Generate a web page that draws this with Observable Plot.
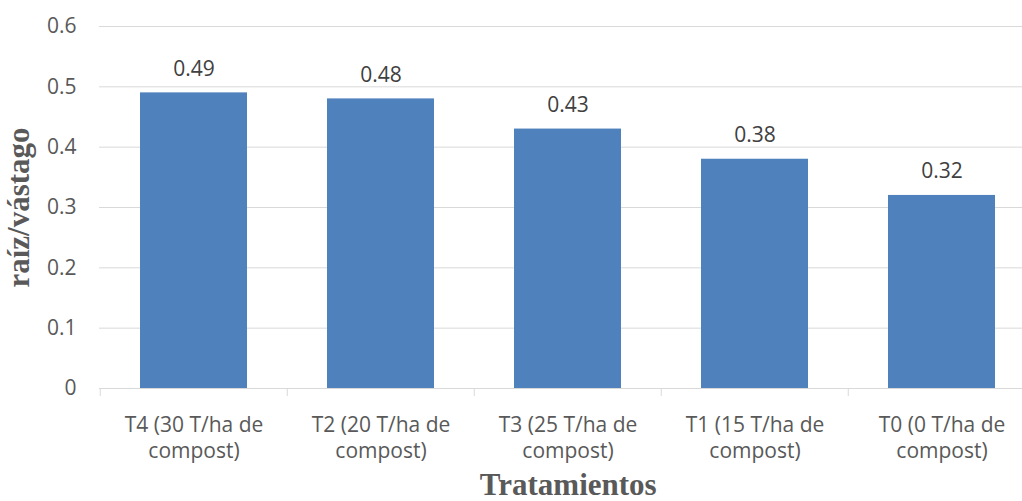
<!DOCTYPE html>
<html><head><meta charset="utf-8">
<script src="https://cdn.jsdelivr.net/npm/d3@7"></script>
<script src="https://cdn.jsdelivr.net/npm/@observablehq/plot@0.6"></script>
<style>body{margin:0;background:#fff;} #chart svg{display:block;}</style>
</head><body><div id="chart"></div>
<script>
const categories = ["T4", "T2", "T3", "T1", "T0"];
const xTickLabels = ["T4 (30 T/ha de\ncompost)", "T2 (20 T/ha de\ncompost)", "T3 (25 T/ha de\ncompost)", "T1 (15 T/ha de\ncompost)", "T0 (0 T/ha de\ncompost)"];
const values = [0.49, 0.48, 0.43, 0.38, 0.32];
const yTicks = [0, 0.1, 0.2, 0.3, 0.4, 0.5, 0.6];
const yTickLabels = ["0", "0.1", "0.2", "0.3", "0.4", "0.5", "0.6"];
const yLabel = "raíz/vástago";
const xLabel = "Tratamientos";

const data = categories.map((c, i) => ({cat: c, v: values[i]}));
const W = 1022, H = 501;
const mTop = 26, mBottom = 113, mLeft = 99;
const xRange = [mLeft, mLeft + 937.5];
const step = (xRange[1] - xRange[0]) / categories.length;
const frameH = H - mTop - mBottom;
const grid = "#d9d9d9";

const chart = Plot.plot({
  width: W, height: H,
  marginTop: mTop, marginBottom: mBottom, marginLeft: mLeft, marginRight: 0,
  style: {fontFamily: "'Open Sans', sans-serif", fontSize: "21px", background: "#fff"},
  x: {domain: categories, range: xRange, paddingInner: 0.43, paddingOuter: 0.215, label: null},
  y: {domain: [0, 0.6], label: null},
  marks: [
    Plot.gridY(yTicks, {stroke: grid, strokeOpacity: 1, strokeWidth: 1}),
    Plot.tickX(categories, {x: d => d, dx: -step / 2, stroke: grid, strokeWidth: 1, insetTop: frameH, insetBottom: -8}),
    Plot.barY(data, {x: "cat", y: "v", fill: "#4f81bd"}),
    Plot.text(data, {x: "cat", y: "v", text: d => d.v.toFixed(2), lineAnchor: "bottom", dy: -17, fill: "#404040", fontSize: 21}),
    Plot.axisY(yTicks, {tickSize: 0, tickPadding: 23, tickFormat: (d, i) => yTickLabels[i], fill: "#595959", fontSize: 21, label: null}),
    Plot.axisX(categories, {tickSize: 0, tickPadding: 25, tickFormat: (d, i) => xTickLabels[i], fill: "#595959", fontSize: 21, lineHeight: 1.25, label: null}),
    Plot.text([yLabel], {frameAnchor: "left", dx: -80, rotate: -90, text: d => d, textAnchor: "middle", fontFamily: "'Liberation Serif', serif", fontWeight: "bold", fontSize: 31, fill: "#595959", lineAnchor: "middle"}),
    Plot.text([xLabel], {frameAnchor: "bottom", dx: (xRange[1] - W) / 2, dy: 97, text: d => d, textAnchor: "middle", fontFamily: "'Liberation Serif', serif", fontWeight: "bold", fontSize: 31, fill: "#595959", lineAnchor: "middle"})
  ]
});
document.getElementById("chart").appendChild(chart);
</script>
</body></html>
